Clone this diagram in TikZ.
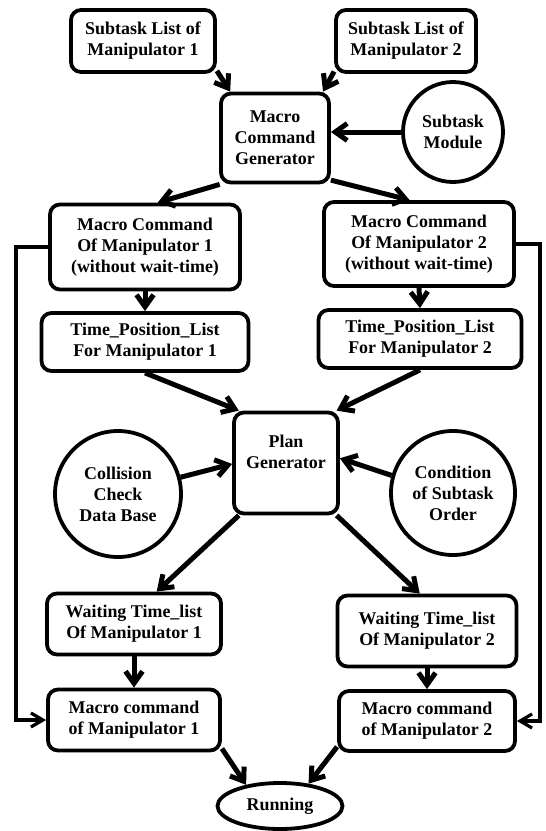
\documentclass[tikz,border=0pt]{standalone}
\usepackage{fontspec}
\setmainfont{Liberation Serif}
\usetikzlibrary{arrows.meta,shapes.geometric}
\begin{document}
\begin{tikzpicture}[x=0.5bp,y=-0.5bp,
  font=\bfseries\fontsize{9}{10.5}\selectfont,
  box/.style={draw,rounded corners=5bp,line width=1.9bp,align=center,inner sep=1bp},
  disc/.style={draw,circle,line width=1.9bp,align=center,inner sep=0pt},
  flow/.style={-{Straight Barb[length=6bp,width=8.5bp]},line width=2.5bp},
  back/.style={-{Straight Barb[length=6bp,width=7bp]},line width=1.6bp}]
\useasboundingbox (0,0) rectangle (546,831);
% inputs
\node[box,minimum width=72bp,minimum height=31bp] (S1) at (143,41) {Subtask List of\\Manipulator 1};
\node[box,minimum width=70bp,minimum height=31bp] (S2) at (406,41) {Subtask List of\\Manipulator 2};
\node[box,minimum width=54bp,minimum height=44.5bp] (MCG) at (275,138) {Macro\\Command\\Generator};
\node[disc,minimum size=50bp] (SM) at (453,132) {Subtask\\Module};
% macro commands without wait-time
\node[box,minimum width=95bp,minimum height=42.5bp] (MC1) at (145,247) {Macro Command\\Of Manipulator 1\\(without wait-time)};
\node[box,minimum width=95bp,minimum height=42bp] (MC2) at (419,244) {Macro Command\\Of Manipulator 2\\(without wait-time)};
\node[box,minimum width=103.5bp,minimum height=29bp] (TP1) at (145,342) {Time\_Position\_List\\For Manipulator 1};
\node[box,minimum width=101.5bp,minimum height=29bp] (TP2) at (420,339) {Time\_Position\_List\\For Manipulator 2};
% plan generator
\node[box,minimum width=52bp,minimum height=50.5bp] (PG) at (286,463) {Plan\\Generator\\[1bp]};
\node[disc,minimum size=63bp] (Col) at (118,494) {Collision\\Check\\Data Base};
\node[disc,minimum size=62bp] (Cond) at (453,493) {Condition\\of Subtask\\Order};
% outputs
\node[box,minimum width=87bp,minimum height=30.5bp] (WT1) at (134,624) {Waiting Time\_list\\Of Manipulator 1};
\node[box,minimum width=89.5bp,minimum height=35.5bp] (WT2) at (427,631) {Waiting Time\_list\\Of Manipulator 2};
\node[box,minimum width=86bp,minimum height=30.5bp] (MCm1) at (134,720) {Macro command\\of Manipulator 1};
\node[box,minimum width=88bp,minimum height=30bp] (MCm2) at (427,721) {Macro command\\of Manipulator 2};
\node[draw,ellipse,line width=1.9bp,minimum width=62.5bp,minimum height=23bp,inner sep=0pt] (Run) at (280,806) {Running};
\coordinate (lbus) at (16,0);
\coordinate (rbus) at (540,0);
% connectors
\draw[flow] (S1.-22) -- (MCG.134);
\draw[flow] (S2.203) -- (MCG.44);
\draw[flow] (SM.west) -- (SM.west -| MCG.east);
\draw[flow] (MCG.220) -- (MC1.74);
\draw[flow] (MCG.323) -- (MC2.102);
\draw[flow] (MC1.south) -- (TP1.north);
\draw[flow] (MC2.south) -- (TP2.north);
\draw[flow] (TP1.south) -- (PG.132);
\draw[flow] (TP2.south) -- (PG.46);
\draw[flow] (Col.15) -- (PG.181);
\draw[flow] (Cond.164) -- (PG.5);
\draw[flow] (PG.228) -- (WT1.55);
\draw[flow] (PG.314) -- (WT2.101);
\draw[flow] (WT1.south) -- (MCm1.north);
\draw[flow] (WT2.south) -- (MCm2.north);
\draw[flow] (MCm1.342) -- (Run.148);
\draw[flow] (MCm2.196) -- (Run.38);
\draw[back] (MC1.west) -- (MC1.west -| lbus) -- (MCm1.west -| lbus) -- (MCm1.west);
\draw[back] (MC2.east) -- (MC2.east -| rbus) -- (MCm2.east -| rbus) -- (MCm2.east);
\end{tikzpicture}
\end{document}
